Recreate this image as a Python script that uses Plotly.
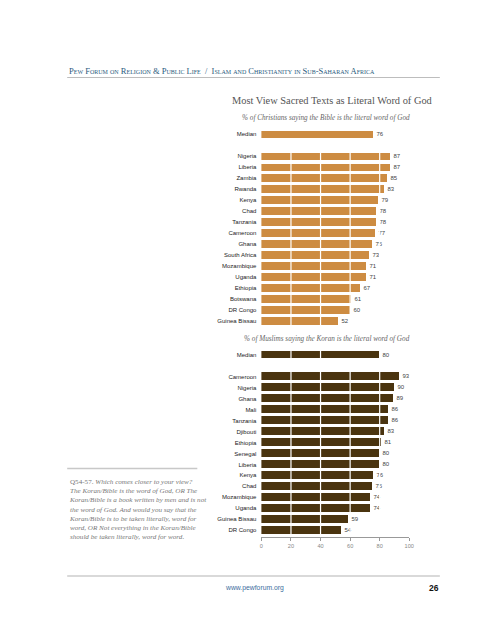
import plotly.graph_objects as go

# ---------------- data ----------------
chr_countries = ["Nigeria", "Liberia", "Zambia", "Rwanda", "Kenya", "Chad", "Tanzania",
                 "Cameroon", "Ghana", "South Africa", "Mozambique", "Uganda", "Ethiopia",
                 "Botswana", "DR Congo", "Guinea Bissau"]
chr_values = [87, 87, 85, 83, 79, 78, 78, 77, 75, 73, 71, 71, 67, 61, 60, 52]
chr_median = 76

mus_countries = ["Cameroon", "Nigeria", "Ghana", "Mali", "Tanzania", "Djibouti", "Ethiopia",
                 "Senegal", "Liberia", "Kenya", "Chad", "Mozambique", "Uganda",
                 "Guinea Bissau", "DR Congo"]
mus_values = [93, 90, 89, 86, 86, 83, 81, 80, 80, 76, 75, 74, 74, 59, 54]
mus_median = 80

x_ticks = [0, 20, 40, 60, 80, 100]

title = "Most View Sacred Texts as Literal Word of God"
chr_subtitle = "% of Christians saying the Bible is the literal word of God"
mus_subtitle = "% of Muslims saying the Koran is the literal word of God"
header = "Pew Forum on Religion & Public Life  /  Islam and Christianity in Sub-Saharan Africa"
footnote_lines = [
    "Q54-57. <i>Which comes closer to your view?</i>",
    "<i>The Koran/Bible is the word of God, OR The</i>",
    "<i>Koran/Bible is a book written by men and is not</i>",
    "<i>the word of God. And would you say that the</i>",
    "<i>Koran/Bible is to be taken literally, word for</i>",
    "<i>word, OR Not everything in the Koran/Bible</i>",
    "<i>should be taken literally, word for word.</i>",
]

# ---------------- styling ----------------
W, H = 495, 640
CHR_COLOR = "#CD8C42"
MUS_COLOR = "#4A340F"
LABEL_FONT = dict(family="Liberation Sans, Arial, sans-serif", size=6, color="#222")
VALUE_FONT = dict(family="Liberation Sans, Arial, sans-serif", size=6, color="#444")


def px(x):
    return x / W


def py(y):
    return 1 - y / H


def build(labels, values, median):
    names = ["Median"] + labels
    vals = [median] + values
    pos = [0] + [i + 2 for i in range(len(labels))]
    return names, vals, pos


chr_names, chr_vals, chr_pos = build(chr_countries, chr_values, chr_median)
mus_names, mus_vals, mus_pos = build(mus_countries, mus_values, mus_median)

fig = go.Figure()
fig.add_trace(go.Bar(
    x=chr_vals, y=chr_pos, orientation="h", width=0.72,
    marker=dict(color=CHR_COLOR, line=dict(width=0)),
    text=[str(v) for v in chr_vals], textposition="outside", cliponaxis=False,
    textfont=VALUE_FONT, xaxis="x", yaxis="y", hoverinfo="skip",
))
fig.add_trace(go.Bar(
    x=mus_vals, y=mus_pos, orientation="h", width=0.72,
    marker=dict(color=MUS_COLOR, line=dict(width=0)),
    text=[str(v) for v in mus_vals], textposition="outside", cliponaxis=False,
    textfont=VALUE_FONT, xaxis="x2", yaxis="y2", hoverinfo="skip",
))

xdom = [px(255), px(405)]
fig.update_layout(
    width=W, height=H, autosize=False,
    margin=dict(l=0, r=0, t=0, b=0),
    paper_bgcolor="white", plot_bgcolor="white",
    showlegend=False, bargap=0,
    xaxis=dict(domain=xdom, range=[0, 100], anchor="y", visible=False, fixedrange=True),
    yaxis=dict(domain=[py(318.5), py(120.7)], range=[17.5, -0.5], anchor="x",
               tickvals=chr_pos, ticktext=chr_names, ticks="", showgrid=False,
               zeroline=False, showline=False, tickfont=LABEL_FONT, ticklabelstandoff=4),
    xaxis2=dict(domain=xdom, range=[0, 100], anchor="y2", showgrid=False, zeroline=False,
                showline=True, linecolor="#999", linewidth=1, ticks="outside", ticklen=3,
                tickcolor="#999", tickvals=x_ticks,
                tickfont=dict(family="Liberation Sans, Arial, sans-serif", size=5.6, color="#888")),
    yaxis2=dict(domain=[py(529), py(341.3)], range=[16.62, -0.5], anchor="x2",
                tickvals=mus_pos, ticktext=mus_names, ticks="", showgrid=False,
                zeroline=False, showline=False, tickfont=LABEL_FONT, ticklabelstandoff=4),
)

# white gridlines drawn over the bars (country rows)
for t in x_ticks[1:-1]:
    fig.add_shape(type="line", xref="x", yref="y", x0=t, x1=t, y0=1, y1=chr_pos[-1] + 0.5,
                  line=dict(color="white", width=1.2), layer="above")
    y_start = -0.5 if t <= 40 else 1
    fig.add_shape(type="line", xref="x2", yref="y2", x0=t, x1=t, y0=y_start, y1=mus_pos[-1] + 0.5,
                  line=dict(color="white", width=1.2), layer="above")

# rules
fig.add_shape(type="line", xref="paper", yref="paper", x0=px(58), x1=px(436), y0=py(69.5), y1=py(69.5),
              line=dict(color="#bdbdbd", width=1))
fig.add_shape(type="line", xref="paper", yref="paper", x0=px(58), x1=px(190), y0=py(460.5), y1=py(460.5),
              line=dict(color="#c8c8c8", width=1.5))
fig.add_shape(type="line", xref="paper", yref="paper", x0=px(58), x1=px(436), y0=py(568), y1=py(568),
              line=dict(color="#d9d9d9", width=2))

ann = []
ann.append(dict(text=header, x=px(58), y=py(62.5), xanchor="left", yanchor="middle",
                font=dict(family="Liberation Serif, serif", size=8.5, color="#2b5b7e", variant="small-caps")))
ann.append(dict(text=title, x=px(223), y=py(92.5), xanchor="left", yanchor="middle",
                font=dict(family="Liberation Serif, serif", size=10.4, color="#555")))
ann.append(dict(text="<i>" + chr_subtitle + "</i>", x=px(233), y=py(110.5), xanchor="left", yanchor="middle",
                font=dict(family="Liberation Serif, serif", size=7.2, color="#666")))
ann.append(dict(text="<i>" + mus_subtitle + "</i>", x=px(235), y=py(331), xanchor="left", yanchor="middle",
                font=dict(family="Liberation Serif, serif", size=7.2, color="#666")))
ann.append(dict(text="<br>".join(footnote_lines), x=px(58), y=py(467.5), xanchor="left", yanchor="top",
                align="left", font=dict(family="Liberation Serif, serif", size=7.1, color="#777")))
ann.append(dict(text="www.pewforum.org", x=px(247.5), y=py(579.5), xanchor="center", yanchor="middle",
                font=dict(family="Liberation Sans, Arial, sans-serif", size=6.8, color="#3d6e9e")))
ann.append(dict(text="<b>26</b>", x=px(437), y=py(579.5), xanchor="right", yanchor="middle",
                font=dict(family="Liberation Sans, Arial, sans-serif", size=8.5, color="#111")))
for a in ann:
    a.update(xref="paper", yref="paper", showarrow=False)
fig.update_layout(annotations=ann)

fig.write_html("out.html")
